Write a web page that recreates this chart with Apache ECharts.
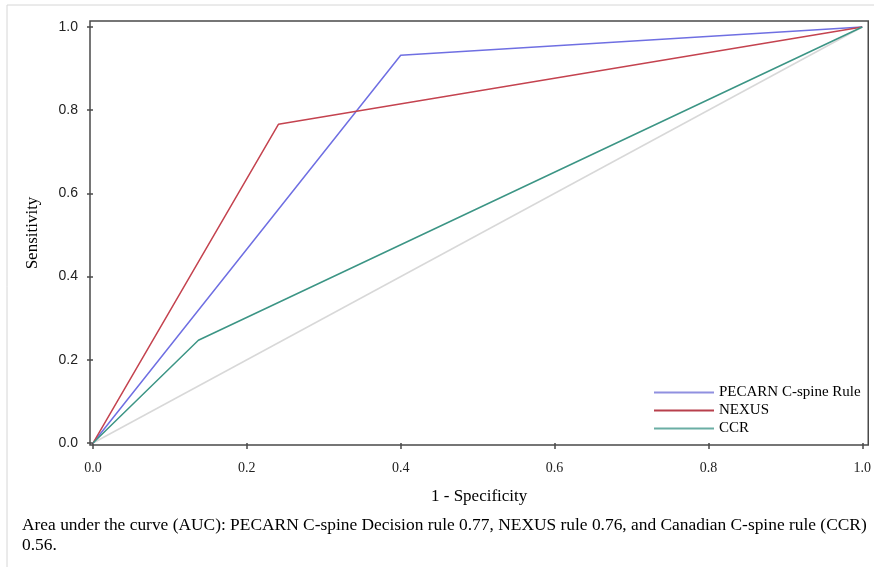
<!DOCTYPE html>
<html>
<head>
<meta charset="utf-8">
<script src="https://cdn.jsdelivr.net/npm/echarts@6/dist/echarts.min.js"></script>
<style>
  html, body { margin: 0; padding: 0; background: #fff; }
  #chart { width: 874px; height: 567px; }
</style>
</head>
<body>
<div id="chart"></div>
<script>
// ROC points: [1 - specificity, sensitivity]
const pecarnPoints = [[0, 0], [0.40, 0.932], [1, 1]]
const nexusPoints = [[0, 0], [0.241, 0.766], [1, 1]]
const ccrPoints = [[0, 0], [0.137, 0.247], [1, 1]]
const chancePoints = [[0, 0], [1, 1]]
const tickValues = [0, 0.2, 0.4, 0.6, 0.8, 1.0]
const seriesNames = ['PECARN C-spine Rule', 'NEXUS', 'CCR']
const captionText = 'Area under the curve (AUC): PECARN C-spine Decision rule 0.77, NEXUS rule 0.76, and Canadian C-spine rule (CCR)\n0.56.'

const serif = 'Liberation Serif'
const chart = echarts.init(document.getElementById('chart'))

const option = {
  animation: false,
  backgroundColor: '#fff',
  title: {
    text: captionText,
    left: 22,
    top: 515,
    padding: 0,
    textStyle: {
      fontFamily: serif,
      fontSize: 17.4,
      fontWeight: 'normal',
      color: '#000',
      lineHeight: 20
    }
  },
  graphic: [
    {
      type: 'rect',
      shape: { x: 7, y: 5, width: 900, height: 600 },
      style: { fill: 'none', stroke: '#d6d6d6', lineWidth: 1 },
      silent: true
    }
  ],
  grid: {
    left: 90,
    right: 5,
    top: 21,
    bottom: 122,
    show: true,
    borderColor: '#4a4a4a',
    borderWidth: 1.5
  },
  legend: {
    orient: 'vertical',
    left: 649,
    top: 380,
    icon: 'rect',
    itemWidth: 60,
    itemHeight: 2,
    itemGap: 3,
    data: seriesNames,
    textStyle: { fontFamily: serif, fontSize: 15, lineHeight: 14, color: '#000' }
  },
  xAxis: {
    type: 'value',
    min: -0.0039,
    max: 1.0078,
    name: '1 - Specificity',
    nameLocation: 'middle',
    nameGap: 43,
    nameTextStyle: { fontFamily: serif, fontSize: 17, color: '#000' },
    axisLine: { show: false },
    axisTick: {
      show: true,
      customValues: tickValues,
      length: 6,
      lineStyle: { color: '#4a4a4a', width: 1.5 }
    },
    axisLabel: {
      customValues: tickValues,
      formatter: v => v.toFixed(1),
      margin: 16,
      fontFamily: serif,
      fontSize: 14,
      color: '#222'
    },
    splitLine: { show: false }
  },
  yAxis: {
    type: 'value',
    min: -0.0048,
    max: 1.0144,
    name: 'Sensitivity',
    nameLocation: 'middle',
    nameGap: 49,
    nameTextStyle: { fontFamily: serif, fontSize: 17, color: '#000' },
    axisLine: { show: false },
    axisTick: {
      show: true,
      customValues: tickValues,
      length: 6,
      lineStyle: { color: '#4a4a4a', width: 1.5 }
    },
    axisLabel: {
      customValues: tickValues,
      formatter: v => v.toFixed(1),
      margin: 12,
      fontFamily: 'Liberation Sans',
      fontSize: 14,
      color: '#222'
    },
    splitLine: { show: false }
  },
  series: [
    {
      name: 'chance',
      type: 'line',
      data: chancePoints,
      symbol: 'none',
      silent: true,
      lineStyle: { color: '#d8d8d8', width: 1.5 },
      z: 1
    },
    {
      name: seriesNames[0],
      type: 'line',
      data: pecarnPoints,
      symbol: 'none',
      lineStyle: { color: '#6f6fe2', width: 1.5 },
      itemStyle: { color: '#9090e0' }
    },
    {
      name: seriesNames[1],
      type: 'line',
      data: nexusPoints,
      symbol: 'none',
      lineStyle: { color: '#c4434f', width: 1.5 },
      itemStyle: { color: '#b8404c' }
    },
    {
      name: seriesNames[2],
      type: 'line',
      data: ccrPoints,
      symbol: 'none',
      lineStyle: { color: '#3c9585', width: 1.5 },
      itemStyle: { color: '#6aaea4' }
    }
  ]
}

chart.setOption(option)
</script>
</body>
</html>
